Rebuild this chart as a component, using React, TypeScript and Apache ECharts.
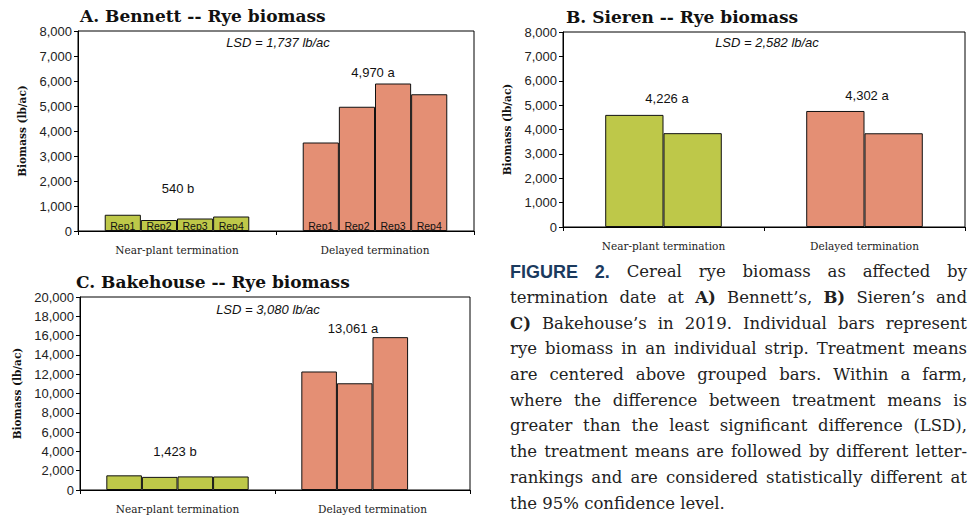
import React, { useEffect, useRef } from "react";
import * as echarts from "echarts";

// ---------- data ----------
const categories = ["Near-plant termination", "Delayed termination"];
const repNames = ["Rep1", "Rep2", "Rep3", "Rep4"];

const bennettNear = [650, 440, 500, 580];
const bennettDelayed = [3540, 4970, 5900, 5470];
const bennettMeans = ["540 b", "4,970 a"];
const bennettLSD = "LSD = 1,737 lb/ac";

const sierenNear = [4600, 3850];
const sierenDelayed = [4760, 3845];
const sierenMeans = ["4,226 a", "4,302 a"];
const sierenLSD = "LSD = 2,582 lb/ac";

const bakehouseNear = [1520, 1360, 1410, 1400];
const bakehouseDelayed: (number | null)[] = [12280, 11060, 15840, null];
const bakehouseMeans = ["1,423 b", "13,061 a"];
const bakehouseLSD = "LSD = 3,080 lb/ac";

const titles = [
  "A. Bennett -- Rye biomass",
  "B. Sieren -- Rye biomass",
  "C. Bakehouse -- Rye biomass",
];
const yAxisName = "Biomass (lb/ac)";
const yMaxAB = 8000;
const yStepAB = 1000;
const yMaxC = 20000;
const yStepC = 2000;

// ^ = figure label style, * = bold serif
const captionLines = [
  "^FIGURE ^2. Cereal rye biomass as affected by",
  "termination date at *A) Bennett’s, *B) Sieren’s and",
  "*C) Bakehouse’s in 2019. Individual bars represent",
  "rye biomass in an individual strip. Treatment means",
  "are centered above grouped bars. Within a farm,",
  "where the difference between treatment means is",
  "greater than the least significant difference (LSD),",
  "the treatment means are followed by different letter-",
  "rankings and are considered statistically different at",
  "the 95% confidence level.",
];

// ---------- styles / layout ----------
const GREEN = "#bec849";
const SALMON = "#e48f74";
const SANS = "Liberation Sans";
const SERIF = "DejaVu Serif";

const grids = [
  { left: 78, top: 31, width: 396, height: 200 },
  { left: 563, top: 32, width: 402, height: 195 },
  { left: 80, top: 297, width: 390, height: 193 },
];

const fmt = (v: number) => v.toLocaleString("en-US");

function barSeries(
  near: (number | null)[],
  delayed: (number | null)[],
  idx: number,
  withLabels: boolean,
  catGap: string
) {
  return near.map((v, i) => ({
    type: "bar",
    name: repNames[i],
    xAxisIndex: idx,
    yAxisIndex: idx,
    barGap: "0%",
    barCategoryGap: catGap,
    itemStyle: { borderColor: "#111", borderWidth: 1 },
    label: withLabels
      ? {
          show: true,
          position: "insideBottom",
          distance: 0,
          formatter: repNames[i],
          fontFamily: SANS,
          fontSize: 10.5,
          color: "#111",
        }
      : { show: false },
    data: [
      { value: v, itemStyle: { color: GREEN } },
      { value: delayed[i], itemStyle: { color: SALMON } },
    ],
  }));
}

function xAxisOf(idx: number) {
  return {
    type: "category",
    gridIndex: idx,
    data: categories,
    axisLine: { show: true, lineStyle: { color: "#000", width: 1 } },
    axisTick: { show: true, length: 4, lineStyle: { color: "#000" } },
    axisLabel: { fontFamily: SERIF, fontSize: 10.5, color: "#222", margin: 13 },
  };
}

function yAxisOf(idx: number, max: number, step: number, gap: number) {
  return {
    type: "value",
    gridIndex: idx,
    min: 0,
    max,
    interval: step,
    name: yAxisName,
    nameLocation: "middle",
    nameGap: gap,
    nameTextStyle: { fontFamily: SERIF, fontWeight: "bold", fontSize: 10.5, color: "#111" },
    axisLine: { show: true, lineStyle: { color: "#000", width: 1 } },
    axisTick: { show: true, length: 4, lineStyle: { color: "#000" } },
    axisLabel: { fontFamily: SANS, fontSize: 13, color: "#222", margin: 6, formatter: fmt },
    splitLine: { show: false },
  };
}

function textEl(
  text: string,
  x: number,
  y: number,
  opts: { size: number; family: string; weight?: string; style?: string; color?: string; align?: string }
) {
  const align = opts.align || "center";
  return {
    type: "text",
    x,
    y,
    z: 10,
    style: {
      text,
      fontSize: opts.size,
      fontFamily: opts.family,
      fontWeight: opts.weight || "normal",
      fontStyle: opts.style || "normal",
      fill: opts.color || "#111",
      align,
      verticalAlign: "middle",
      textAlign: align,
      textVerticalAlign: "middle",
    },
  };
}

function captionElements() {
  const ctx = document.createElement("canvas").getContext("2d")!;
  const styles: Record<string, { size: number; family: string; weight: string; color: string }> = {
    fig: { size: 18, family: SANS, weight: "bold", color: "#1b3a5e" },
    b: { size: 16.5, family: SERIF, weight: "bold", color: "#222" },
    r: { size: 16.5, family: SERIF, weight: "normal", color: "#222" },
  };
  const measure = (t: string, s: { size: number; family: string; weight: string }) => {
    ctx.font = `${s.weight} ${s.size}px "${s.family}"`;
    return ctx.measureText(t).width;
  };
  const left = 510;
  const right = 967;
  const top = 271.7;
  const lineH = 25.7;
  const els: any[] = [];
  captionLines.forEach((line, li) => {
    const toks = line.split(" ").map((w) => {
      if (w.startsWith("^")) return { t: w.slice(1), s: styles.fig };
      if (w.startsWith("*")) return { t: w.slice(1), s: styles.b };
      return { t: w, s: styles.r };
    });
    const widths = toks.map((k) => measure(k.t, k.s));
    const total = widths.reduce((a, b) => a + b, 0);
    const isLast = li === captionLines.length - 1;
    let gap = measure(" ", styles.r);
    if (!isLast && toks.length > 1) gap = Math.max(2, (right - left - total) / (toks.length - 1));
    let x = left;
    toks.forEach((k, i) => {
      els.push(
        textEl(k.t, x, top + li * lineH, {
          size: k.s.size,
          family: k.s.family,
          weight: k.s.weight,
          color: k.s.color,
          align: "left",
        })
      );
      x += widths[i] + gap;
    });
  });
  return els;
}

export default function App() {
  const ref = useRef<HTMLDivElement>(null);
  useEffect(() => {
    if (!ref.current) return;
    const chart = echarts.init(ref.current, undefined, { renderer: "svg" });
    const titleOpt = { size: 17, family: SERIF, weight: "bold", color: "#111", align: "left" };
    const meanOpt = { size: 13, family: SANS, color: "#111" };
    const lsdOpt = { size: 13, family: SANS, style: "italic", color: "#111" };
    const option: any = {
      animation: false,
      backgroundColor: "#fff",
      grid: grids.map((g) => ({
        ...g,
        show: true,
        borderColor: "#000",
        borderWidth: 1,
        backgroundColor: "transparent",
      })),
      xAxis: [xAxisOf(0), xAxisOf(1), xAxisOf(2)],
      yAxis: [
        yAxisOf(0, yMaxAB, yStepAB, 51),
        yAxisOf(1, yMaxAB, yStepAB, 51),
        yAxisOf(2, yMaxC, yStepC, 58),
      ],
      series: [
        ...barSeries(bennettNear, bennettDelayed, 0, true, "27%"),
        ...barSeries(sierenNear, sierenDelayed, 1, false, "42%"),
        ...barSeries(bakehouseNear, bakehouseDelayed, 2, false, "27%"),
      ],
      graphic: [
        textEl(titles[0], 80, 16, titleOpt),
        textEl(titles[1], 566, 17, titleOpt),
        textEl(titles[2], 76, 282, titleOpt),
        textEl(bennettLSD, 278, 42, lsdOpt),
        textEl(sierenLSD, 767, 42, lsdOpt),
        textEl(bakehouseLSD, 268, 309, lsdOpt),
        textEl(bennettMeans[0], 178, 188, meanOpt),
        textEl(bennettMeans[1], 373, 72, meanOpt),
        textEl(sierenMeans[0], 667, 98, meanOpt),
        textEl(sierenMeans[1], 867, 95, meanOpt),
        textEl(bakehouseMeans[0], 175, 451, meanOpt),
        textEl(bakehouseMeans[1], 353, 328, meanOpt),
        ...captionElements(),
      ],
    };
    chart.setOption(option);
    return () => chart.dispose();
  }, []);
  return (
    <div
      ref={ref}
      style={{ position: "fixed", left: 0, top: 0, width: 969, height: 518, background: "#fff" }}
    />
  );
}
